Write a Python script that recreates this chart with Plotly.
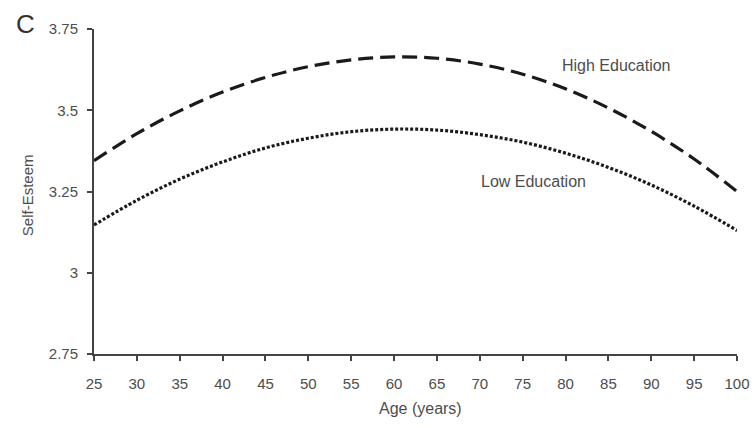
import plotly.graph_objects as go

ages = [25, 30, 35, 40, 45, 50, 55, 60, 65, 70, 75, 80, 85, 90, 95, 100]
high_edu = [3.345, 3.428, 3.498, 3.556, 3.601, 3.634, 3.655, 3.664, 3.660, 3.642,
            3.611, 3.566, 3.507, 3.435, 3.350, 3.250]
low_edu = [3.147, 3.223, 3.288, 3.341, 3.384, 3.414, 3.434, 3.442, 3.439, 3.425,
           3.402, 3.368, 3.324, 3.270, 3.205, 3.130]
x_ticks = list(range(25, 101, 5))
y_ticks = [2.75, 3.0, 3.25, 3.5, 3.75]
y_tick_labels = ["2.75", "3", "3.25", "3.5", "3.75"]

FONT = "Liberation Sans, Arial, sans-serif"
GRAY = "#4d4d4d"
AXIS = "#444444"

fig = go.Figure()
fig.add_trace(go.Scatter(x=ages, y=high_edu, mode="lines", name="High Education",
                         line=dict(color="#1a1a1a", width=3.2, dash="15px,7px", shape="spline"),
                         showlegend=False))
fig.add_trace(go.Scatter(x=ages, y=low_edu, mode="lines", name="Low Education",
                         line=dict(color="#1a1a1a", width=3.2, dash="3px,2px", shape="spline"),
                         showlegend=False))

fig.add_annotation(x=85.9, y=3.639, text="High Education", showarrow=False,
                   font=dict(family=FONT, size=16, color=GRAY))
fig.add_annotation(x=76.3, y=3.282, text="Low Education", showarrow=False,
                   font=dict(family=FONT, size=16, color=GRAY))
fig.add_annotation(xref="paper", yref="paper", x=-0.106, y=1.015, text="C",
                   showarrow=False, xanchor="center", yanchor="middle",
                   font=dict(family=FONT, size=26, color="#333333"))
fig.add_annotation(xref="paper", yref="paper", x=0.507, y=-0.169, text="Age (years)",
                   showarrow=False, xanchor="center", yanchor="middle",
                   font=dict(family=FONT, size=16, color=GRAY))
fig.add_annotation(xref="paper", yref="paper", x=-0.104, y=0.489, text="Self-Esteem",
                   showarrow=False, xanchor="center", yanchor="middle", textangle=-90,
                   font=dict(family=FONT, size=15, color=GRAY))

fig.update_layout(
    width=755, height=427,
    margin=dict(l=94, r=18, t=29, b=73, autoexpand=False),
    paper_bgcolor="white", plot_bgcolor="white",
    font=dict(family=FONT, color=GRAY, size=15),
    xaxis=dict(range=[25, 100], tickvals=x_ticks, ticks="outside", ticklen=5,
               tickwidth=2, tickcolor=AXIS, showline=True, linecolor=AXIS,
               linewidth=2, showgrid=False, zeroline=False, automargin=False,
               ticklabelstandoff=10, tickfont=dict(size=15, color=GRAY)),
    yaxis=dict(range=[2.75, 3.75], tickvals=y_ticks, ticktext=y_tick_labels,
               ticks="outside", ticklen=5, tickwidth=2, tickcolor=AXIS,
               showline=True, linecolor=AXIS, linewidth=2, showgrid=False,
               zeroline=False, automargin=False, ticklabelstandoff=6,
               tickfont=dict(size=15, color=GRAY)),
)

fig.write_html(
    "out.html",
    config={"displayModeBar": False},
    post_script="document.body.style.margin='0';document.body.style.overflow='hidden';",
)
